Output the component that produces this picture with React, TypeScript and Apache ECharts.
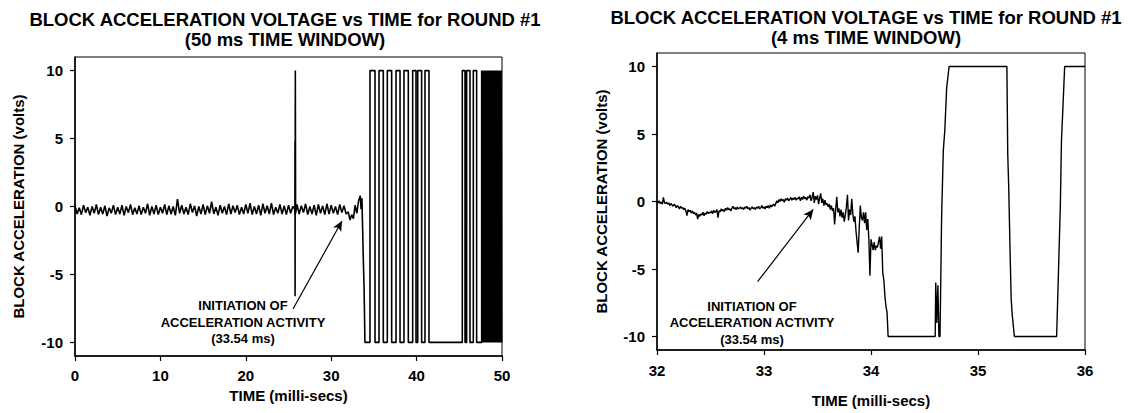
import React, { useEffect, useRef } from "react";
import * as echarts from "echarts";

// ---------- texts ----------
const TITLE_LINE_1 = "BLOCK ACCELERATION VOLTAGE vs TIME for ROUND #1";
const LEFT_SUBTITLE = "(50 ms TIME WINDOW)";
const RIGHT_SUBTITLE = "(4 ms TIME WINDOW)";
const X_NAME = "TIME (milli-secs)";
const Y_NAME = "BLOCK ACCELERATION (volts)";
const ANNOTATION_LINES = ["INITIATION OF", "ACCELERATION ACTIVITY", "(33.54 ms)"];

// ---------- ticks ----------
const yTickValues = [-10, -5, 0, 5, 10];
const leftXRange = [0, 50];
const rightXRange = [32, 36];

// ---------- left chart (50 ms window) ----------
// baseline noise sampled every 0.25 ms from 0 ms
const leftBaselineStart = 0;
const leftBaselineStep = 0.25;
const leftBaseline = [
  0.05, -0.55, -0.1, -0.6, 0.1, -0.45, -0.05, -0.65, 0.0, -0.5,
  0.15, -0.6, -0.05, -0.55, 0.05, -0.7, -0.1, -0.5, 0.1, -0.6,
  -0.05, -0.55, 0.1, -0.65, 0.0, -0.45, 0.15, -0.6, -0.1, -0.55,
  0.05, -0.6, -0.05, -0.5, 0.2, -0.65, 0.0, -0.55, 0.1, -0.6,
  -0.05, -0.5, 0.15, -0.6, 0.05, -0.55, 0.0, -0.65, 0.55, -0.5,
  0.1, -0.55, -0.05, -0.6, 0.2, -0.45, 0.05, -0.7, 0.0, -0.55,
  0.15, -0.6, 0.05, -0.5, 0.35, -0.55, -0.05, -0.65, 0.1, -0.5,
  0.0, -0.6, 0.2, -0.55, 0.05, -0.45, 0.1, -0.6, -0.05, -0.55,
  0.15, -0.5, 0.25, -0.6, 0.0, -0.55, 0.1, -0.65, 0.2, -0.5,
  0.05, -0.55, 0.25, -0.6, -0.05, -0.5, 0.15, -0.55, 0.05, -0.6,
  0.1, -0.5, 0.0, -0.6, 0.15, -0.55, 0.05, -0.45, 0.2, -0.6,
  0.0, -0.55, 0.1, -0.65, 0.15, -0.5, 0.05, -0.6, 0.2, -0.55,
  0.1, -0.5, 0.0, -0.6, 0.15, -0.45, 0.05, -0.55,
];
// isolated spike near 25.8 ms
const leftSpike = [
  [25.74, -0.2], [25.76, 4.8], [25.77, -6.6], [25.8, 10], [25.83, -0.5],
];
// onset of activity
const leftOnset = [
  [32.0, -0.4], [32.2, -1.0], [32.4, -0.6], [32.6, -0.9], [32.8, 0.1],
  [33.0, -0.5], [33.2, 0.4], [33.4, 0.8], [33.5, -0.2], [33.6, 0.6],
  [33.75, -3.6], [33.85, -6.0], [33.95, -10],
];
// saturated pulses: [rise time, fall time] between -10 V and +10 V
const leftPulses = [
  [34.54, 35.13], [35.6, 36.1], [36.57, 37.08], [37.59, 38.06], [38.52, 39.03],
  [39.54, 39.93], [40.13, 40.59], [40.98, 41.45], [45.35, 45.67], [45.86, 46.25],
  [46.64, 47.03],
  [47.62, 47.68], [47.74, 47.8], [47.86, 47.92], [47.98, 48.04], [48.1, 48.16],
  [48.22, 48.28], [48.34, 48.4], [48.46, 48.52], [48.58, 48.64], [48.7, 48.76],
  [48.82, 48.88], [48.94, 49.0], [49.06, 49.12], [49.18, 49.24], [49.3, 49.36],
  [49.42, 49.48], [49.54, 49.6], [49.66, 49.72], [49.78, 49.84], [49.9, 49.96],
];
const leftEnd = [50, -10];

// ---------- right chart (4 ms window) ----------
// noise sampled every 0.01 ms from 32.00 ms
const rightNoiseStart = 32;
const rightNoiseStep = 0.01;
const rightNoise = [
  0.0, -0.1, 0.05, -0.15, -0.05, -0.2, 0.3, -0.1, -0.15, -0.05,
  -0.2, -0.1, -0.3, -0.15, -0.25, -0.35, -0.2, -0.3, -0.45, -0.3,
  -0.4, -0.55, -0.35, -0.5, -0.45, -0.6, -0.5, -0.7, -1.05, -0.6,
  -0.75, -0.65, -0.85, -0.7, -0.9, -0.8, -1.0, -0.85, -1.3, -0.95,
  -1.1, -0.9, -1.0, -0.8, -1.05, -0.85, -0.95, -0.75, -0.9, -0.8,
  -0.85, -0.7, -0.9, -0.65, -0.8, -0.75, -0.6, -1.2, -0.7, -0.75,
  -0.55, -0.7, -0.6, -0.75, -0.5, -0.65, -0.45, -0.6, -0.55, -0.7,
  -0.5, -0.35, -0.55, -0.45, -0.6, -0.4, -0.55, -0.5, -0.4, -0.55,
  -0.45, -0.6, -0.4, -0.5, -0.35, -0.55, -0.45, -0.65, -0.5, -0.4,
  -0.55, -0.45, -0.6, -0.4, -0.5, -0.35, -0.55, -0.45, -0.3, -0.5,
  -0.4, -0.55, -0.35, -0.45, -0.3, -0.5, -0.25, -0.4, -0.3, -0.2,
  -0.35, -0.15, 0.05, -0.1, 0.15, 0.0, 0.2, 0.05, 0.15, -0.05,
  0.2, 0.1, 0.25, 0.05, 0.15, 0.3, 0.1, 0.25, 0.15, 0.3,
  0.1, 0.25, 0.2, 0.35, 0.05, 0.3, 0.15, 0.4, 0.2, 0.3,
  0.1, 0.35, 0.25, 0.5, 0.05, 0.3, 0.7, -0.1, 0.4, 0.15,
  0.45, -0.2, 0.25, 0.6, -0.1, 0.2, -0.3, 0.1, -0.25, -0.15,
  -0.4,
];
const rightOnset = [
  [33.61, -0.2], [33.62, -0.6], [33.63, -0.3], [33.64, -0.7], [33.65, -0.5],
  [33.66, -1.7], [33.67, -0.6], [33.68, 0.35], [33.69, -0.8], [33.7, -0.5],
  [33.71, -1.1], [33.72, -0.6], [33.73, -1.2], [33.74, -0.8], [33.75, -1.5],
  [33.76, -1.0], [33.77, -0.4], [33.78, 0.5], [33.79, -1.4], [33.8, -0.6],
  [33.81, -1.0], [33.82, 0.2], [33.83, -0.9], [33.84, -1.5], [33.85, -1.1],
  [33.86, -2.2], [33.87, -3.0], [33.88, -3.8], [33.89, -2.0], [33.9, -0.3],
  [33.91, -1.2], [33.92, -1.4], [33.93, -0.8], [33.94, -1.6], [33.95, -0.8],
  [33.96, -2.1], [33.97, -1.3], [33.98, -2.8], [33.99, -5.5], [34.0, -2.8],
  [34.01, -3.2], [34.02, -3.6], [34.03, -3.0], [34.04, -3.6], [34.05, -3.3],
  [34.06, -3.4], [34.07, -3.0], [34.08, -2.6], [34.09, -3.5], [34.1, -2.6],
  [34.11, -5.3], [34.12, -5.8], [34.13, -7.0], [34.14, -7.8], [34.15, -8.2],
];
const rightSwitching = [
  [34.16, -10], [34.6, -10], [34.605, -6.0], [34.615, -9.0], [34.625, -6.2],
  [34.635, -10], [34.645, -10], [34.66, -1.1], [34.676, 3.8], [34.69, 5.3],
  [34.707, 8.4], [34.73, 10], [35.27, 10], [35.278, 3.5], [35.287, 1.1],
  [35.3, -3.8], [35.31, -7.2], [35.32, -8.4], [35.34, -10], [35.735, -10],
  [35.745, -7.2], [35.77, -0.15], [35.78, 4.5], [35.79, 6.3], [35.81, 10],
  [36.0, 10],
];

// arrows: [from, to] in data coordinates
const leftArrow = [[25.53, -7.54], [31.26, -1.07]];
const rightArrow = [[32.94, -5.94], [33.46, -0.59]];

const FONT = "'Liberation Sans', Arial, Helvetica, sans-serif";

function buildLeft(): number[][] {
  const pts: number[][] = leftBaseline.map((v, i) => [leftBaselineStart + i * leftBaselineStep, v]);
  const merged = pts.concat(leftSpike).sort((a, b) => a[0] - b[0]);
  const out = merged.concat(leftOnset);
  leftPulses.forEach(([r, f]) => {
    out.push([r, -10], [r, 10], [f, 10], [f, -10]);
  });
  out.push(leftEnd);
  return out;
}

function buildRight(): number[][] {
  const pts: number[][] = rightNoise.map((v, i) => [
    Math.round((rightNoiseStart + i * rightNoiseStep) * 1000) / 1000,
    v,
  ]);
  return pts.concat(rightOnset, rightSwitching);
}

function makeXAxis(gridIndex: number, range: number[], interval: number, nameGap: number, labelMargin: number) {
  return {
    type: "value",
    gridIndex,
    min: range[0],
    max: range[1],
    interval,
    name: X_NAME,
    nameLocation: "middle",
    nameGap,
    nameTextStyle: { fontFamily: FONT, fontWeight: "bold", fontSize: 15, color: "#000" },
    axisLine: { show: true, onZero: false, lineStyle: { color: "#000", width: 1.5 } },
    axisTick: { show: true, inside: false, length: 5, lineStyle: { color: "#000", width: 1.2 } },
    axisLabel: { fontFamily: FONT, fontWeight: "bold", fontSize: 15, color: "#000", margin: labelMargin },
    splitLine: { show: false },
  };
}

function makeYAxis(gridIndex: number, nameGap: number) {
  return {
    type: "value",
    gridIndex,
    min: -11,
    max: 11,
    name: Y_NAME,
    nameLocation: "middle",
    nameGap,
    nameTextStyle: { fontFamily: FONT, fontWeight: "bold", fontSize: 15, color: "#000" },
    axisLine: { show: true, onZero: false, lineStyle: { color: "#000", width: 1.5 } },
    axisTick: { show: true, inside: false, length: 5, customValues: yTickValues, lineStyle: { color: "#000", width: 1.2 } },
    axisLabel: { customValues: yTickValues, fontFamily: FONT, fontWeight: "bold", fontSize: 15, color: "#000", margin: 12 },
    splitLine: { show: false },
  };
}

function arrowMarkLine(a: number[][]) {
  return {
    silent: true,
    symbol: ["none", "arrow"],
    symbolSize: [7, 10],
    label: { show: false },
    lineStyle: { color: "#000", width: 1.2, type: "solid" },
    data: [[{ coord: a[0] }, { coord: a[1] }]],
  };
}

export default function App() {
  const ref = useRef<HTMLDivElement>(null);

  useEffect(() => {
    if (!ref.current) return;
    const chart = echarts.init(ref.current, undefined, { renderer: "svg" });

    const titleStyle = (text: string) => ({
      text,
      font: `bold 18.5px ${FONT}`,
      fill: "#000",
      textAlign: "center",
      textVerticalAlign: "middle",
    });
    const annStyle = {
      text: ANNOTATION_LINES.join("\n"),
      font: `bold 13px ${FONT}`,
      fill: "#000",
      textAlign: "center",
      textVerticalAlign: "middle",
      lineHeight: 16.5,
    };

    chart.setOption({
      animation: false,
      backgroundColor: "#fff",
      grid: [
        { left: 75, top: 57, width: 427, height: 299, show: true, borderColor: "#000", borderWidth: 1, backgroundColor: "transparent" },
        { left: 657, top: 53, width: 428, height: 300, show: true, borderColor: "#000", borderWidth: 1, backgroundColor: "transparent" },
      ],
      xAxis: [
        makeXAxis(0, leftXRange, 10, 31, 12),
        makeXAxis(1, rightXRange, 1, 43, 13),
      ],
      yAxis: [makeYAxis(0, 49), makeYAxis(1, 48)],
      graphic: [
        { type: "text", x: 285, y: 19, style: titleStyle(TITLE_LINE_1) },
        { type: "text", x: 285, y: 39, style: titleStyle(LEFT_SUBTITLE) },
        { type: "text", x: 866, y: 17, style: titleStyle(TITLE_LINE_1) },
        { type: "text", x: 866, y: 37, style: titleStyle(RIGHT_SUBTITLE) },
        { type: "text", x: 243, y: 322, style: annStyle },
        { type: "text", x: 752, y: 322.5, style: annStyle },
      ],
      series: [
        {
          type: "line",
          xAxisIndex: 0,
          yAxisIndex: 0,
          data: buildLeft(),
          showSymbol: false,
          symbol: "none",
          lineStyle: { color: "#000", width: 1.6 },
          markLine: arrowMarkLine(leftArrow),
        },
        {
          type: "line",
          xAxisIndex: 1,
          yAxisIndex: 1,
          data: buildRight(),
          showSymbol: false,
          symbol: "none",
          lineStyle: { color: "#000", width: 1.4 },
          markLine: arrowMarkLine(rightArrow),
        },
      ],
    });

    return () => chart.dispose();
  }, []);

  return (
    <div
      ref={ref}
      style={{ position: "absolute", left: 0, top: 0, width: 1135, height: 413, background: "#fff" }}
    />
  );
}
